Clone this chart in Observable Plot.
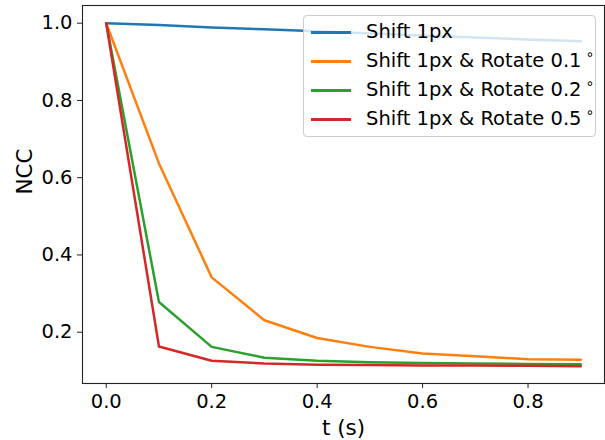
<!DOCTYPE html>
<html>
<head>
<meta charset="utf-8">
<script src="https://cdn.jsdelivr.net/npm/d3@7"></script>
<script src="https://cdn.jsdelivr.net/npm/@observablehq/plot@0.6"></script>
<style>
  html, body { margin: 0; padding: 0; background: #fff; }
  #wrap { position: relative; width: 605px; height: 440px; font-family: "DejaVu Sans", sans-serif; }
  #legend {
    position: absolute; left: 303px; top: 15px; width: 293px; height: 122px;
    background: rgba(255,255,255,0.8); border: 1px solid #cccccc; border-radius: 4px;
    box-sizing: border-box;
  }
  .row { position: absolute; left: 0; height: 29px; width: 100%; }
  .sw { position: absolute; left: 7px; top: 14px; width: 40px; height: 2.5px; }
  .lab { position: absolute; left: 62px; top: 4px; white-space: nowrap; font-size: 19.5px; color: #000; line-height: 1.1; }
  .deg { font-size: 14px; position: relative; top: -8px; margin-left: 4px; }
</style>
</head>
<body>
<div id="wrap"></div>
<script>
const t = [0.0, 0.1, 0.2, 0.3, 0.4, 0.5, 0.6, 0.7, 0.8, 0.9];
const shift1px = [1.0, 0.995, 0.989, 0.984, 0.979, 0.973, 0.968, 0.963, 0.958, 0.953];
const rotate01 = [1.0, 0.637, 0.342, 0.231, 0.185, 0.162, 0.145, 0.138, 0.130, 0.129];
const rotate02 = [1.0, 0.278, 0.162, 0.134, 0.126, 0.122, 0.120, 0.119, 0.118, 0.117];
const rotate05 = [1.0, 0.163, 0.126, 0.119, 0.116, 0.115, 0.114, 0.114, 0.113, 0.112];
const seriesNames = ["Shift 1px", "Shift 1px & Rotate 0.1", "Shift 1px & Rotate 0.2", "Shift 1px & Rotate 0.5"];
const seriesColors = ["#1f77b4", "#ff7f0e", "#2ca02c", "#d62728"];
const xTicks = [0.0, 0.2, 0.4, 0.6, 0.8];
const yTicks = [0.2, 0.4, 0.6, 0.8, 1.0];

const allSeries = [shift1px, rotate01, rotate02, rotate05];
const data = allSeries.flatMap((vals, i) => vals.map((v, j) => ({t: t[j], v, s: seriesNames[i]})));

const plot = Plot.plot({
  width: 605,
  height: 440,
  marginLeft: 82,
  marginTop: 5,
  marginRight: 1,
  marginBottom: 57,
  style: {fontFamily: "DejaVu Sans, sans-serif", fontSize: "19.5px", color: "#000", background: "#fff"},
  x: {domain: [-0.045, 0.945]},
  y: {domain: [0.0672, 1.0458]},
  color: {domain: seriesNames, range: seriesColors},
  marks: [
    Plot.line(data, {x: "t", y: "v", z: "s", stroke: "s", strokeWidth: 2.5}),
    Plot.frame({stroke: "#222", strokeWidth: 1.1}),
    Plot.axisX({ticks: xTicks, tickFormat: d3.format(".1f"), tickSize: 5, tickPadding: 6, label: null, fontSize: 19.5, stroke: "#222"}),
    Plot.axisY({ticks: yTicks, tickFormat: d3.format(".1f"), tickSize: 5, tickPadding: 5, label: null, fontSize: 19.5, stroke: "#222"}),
    Plot.text(["t (s)"], {frameAnchor: "bottom", dy: 45, lineAnchor: "middle", fontSize: 21.5, fill: "#000"}),
    Plot.text(["NCC"], {frameAnchor: "left", dx: -57, rotate: -90, lineAnchor: "middle", fontSize: 21.5, fill: "#000"})
  ]
});
const wrap = document.getElementById("wrap");
wrap.appendChild(plot);

const legend = document.createElement("div");
legend.id = "legend";
seriesNames.forEach((name, i) => {
  const row = document.createElement("div");
  row.className = "row";
  row.style.top = (1 + i * 29) + "px";
  const sw = document.createElement("div");
  sw.className = "sw";
  sw.style.background = seriesColors[i];
  const lab = document.createElement("div");
  lab.className = "lab";
  lab.textContent = name;
  if (i > 0) {
    const d = document.createElement("span");
    d.className = "deg";
    d.textContent = "∘";
    lab.appendChild(d);
  }
  row.appendChild(sw);
  row.appendChild(lab);
  legend.appendChild(row);
});
wrap.appendChild(legend);
</script>
</body>
</html>
